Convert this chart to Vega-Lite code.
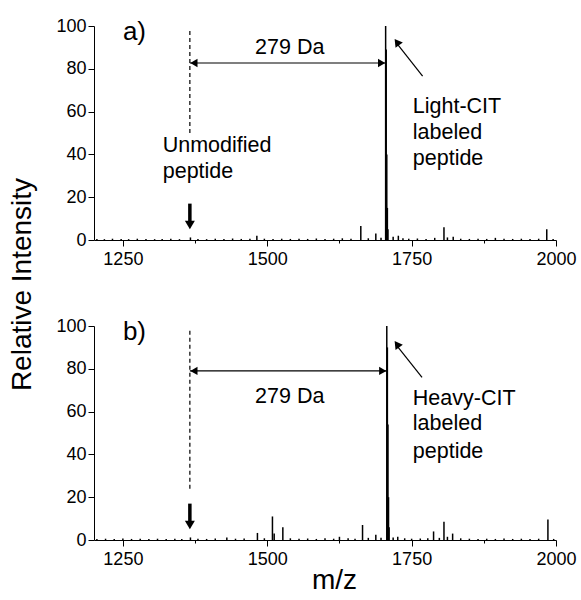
{
  "$schema": "https://vega.github.io/schema/vega-lite/v6.json",
  "background": "white",
  "padding": {"left": 8, "top": 17, "right": 5, "bottom": 5},
  "bounds": "flush",
  "spacing": 86,
  "config": {
    "font": "Liberation Sans",
    "view": {"stroke": null},
    "axis": {
      "domainColor": "black", "tickColor": "black", "labelColor": "black", "titleColor": "black",
      "labelFont": "Liberation Sans", "labelFontSize": 18, "grid": false, "labelFlush": false,
      "titleFont": "Liberation Sans", "titleFontWeight": "normal", "titleFontSize": 28
    }
  },
  "datasets": {
    "peaksA": [
      {"mz":1205,"i":0.5},{"mz":1218,"i":0.4},{"mz":1232,"i":0.6},{"mz":1247,"i":0.5},{"mz":1260,"i":0.4},{"mz":1275,"i":0.6},{"mz":1290,"i":0.5},{"mz":1305,"i":0.4},{"mz":1318,"i":0.5},{"mz":1333,"i":0.6},{"mz":1348,"i":0.4},{"mz":1367,"i":1.2},{"mz":1380,"i":0.5},{"mz":1395,"i":0.4},{"mz":1410,"i":0.6},{"mz":1425,"i":0.5},{"mz":1440,"i":0.7},{"mz":1455,"i":0.5},{"mz":1470,"i":0.6},{"mz":1482,"i":2.0},{"mz":1495,"i":0.6},{"mz":1510,"i":0.5},{"mz":1525,"i":0.6},{"mz":1540,"i":0.5},{"mz":1555,"i":0.6},{"mz":1570,"i":0.5},{"mz":1585,"i":0.7},{"mz":1600,"i":0.5},{"mz":1615,"i":0.6},{"mz":1630,"i":0.8},{"mz":1645,"i":0.6},{"mz":1662,"i":6.5},{"mz":1675,"i":0.8},{"mz":1688,"i":3.0},{"mz":1697,"i":1.0},{"mz":1705,"i":100},{"mz":1706,"i":89},{"mz":1707,"i":40},{"mz":1708,"i":15},{"mz":1709,"i":5},{"mz":1718,"i":1.5},{"mz":1727,"i":2.0},{"mz":1735,"i":0.8},{"mz":1745,"i":0.6},{"mz":1760,"i":0.7},{"mz":1775,"i":0.5},{"mz":1790,"i":1.0},{"mz":1806,"i":6.0},{"mz":1812,"i":1.2},{"mz":1822,"i":1.5},{"mz":1835,"i":0.6},{"mz":1850,"i":0.5},{"mz":1865,"i":0.6},{"mz":1880,"i":0.5},{"mz":1895,"i":1.0},{"mz":1910,"i":0.6},{"mz":1925,"i":0.5},{"mz":1940,"i":0.6},{"mz":1955,"i":0.5},{"mz":1970,"i":0.6},{"mz":1984,"i":5.0},{"mz":1995,"i":0.5}
    ],
    "peaksB": [
      {"mz":1205,"i":0.5},{"mz":1220,"i":0.6},{"mz":1235,"i":0.5},{"mz":1250,"i":0.7},{"mz":1265,"i":0.5},{"mz":1280,"i":0.6},{"mz":1295,"i":0.5},{"mz":1310,"i":0.6},{"mz":1325,"i":0.5},{"mz":1340,"i":0.6},{"mz":1352,"i":0.5},{"mz":1367,"i":1.2},{"mz":1380,"i":0.6},{"mz":1395,"i":0.5},{"mz":1410,"i":0.7},{"mz":1430,"i":1.2},{"mz":1445,"i":0.6},{"mz":1460,"i":0.7},{"mz":1483,"i":3.3},{"mz":1495,"i":0.8},{"mz":1509,"i":11},{"mz":1512,"i":3},{"mz":1527,"i":6},{"mz":1540,"i":0.8},{"mz":1555,"i":0.6},{"mz":1570,"i":0.7},{"mz":1585,"i":0.5},{"mz":1600,"i":0.8},{"mz":1615,"i":0.6},{"mz":1625,"i":1.5},{"mz":1640,"i":0.8},{"mz":1652,"i":0.6},{"mz":1665,"i":7},{"mz":1675,"i":1.0},{"mz":1688,"i":2.5},{"mz":1697,"i":1.0},{"mz":1707,"i":100},{"mz":1708,"i":90},{"mz":1709,"i":54},{"mz":1710,"i":20},{"mz":1711,"i":6},{"mz":1718,"i":1.2},{"mz":1726,"i":1.5},{"mz":1738,"i":0.8},{"mz":1750,"i":0.6},{"mz":1765,"i":0.7},{"mz":1778,"i":0.8},{"mz":1788,"i":4},{"mz":1798,"i":1.0},{"mz":1806,"i":8.5},{"mz":1812,"i":1.5},{"mz":1821,"i":3},{"mz":1835,"i":0.8},{"mz":1850,"i":0.6},{"mz":1865,"i":0.5},{"mz":1880,"i":0.6},{"mz":1895,"i":0.5},{"mz":1910,"i":0.7},{"mz":1925,"i":0.5},{"mz":1940,"i":0.6},{"mz":1955,"i":0.5},{"mz":1970,"i":0.6},{"mz":1986,"i":9.6},{"mz":1996,"i":0.5}
    ]
  },
  "vconcat": [
    {
      "width": 462, "height": 214,
      "layer": [
        {
          "data": {"name": "peaksA"},
          "mark": {"type": "rule", "color": "black", "strokeWidth": 1.5},
          "encoding": {
            "x": {"field": "mz", "type": "quantitative", "scale": {"domain": [1200, 2000], "nice": false},
              "axis": {"title": null, "values": [1250,1375,1500,1625,1750,1875,2000], "format": "d",
                "labelExpr": "datum.value % 250 === 0 ? datum.label : ''", "labelPadding": 4,
                "tickSize": {"condition": {"test": "datum.value % 250 === 0", "value": 6}, "value": 3}}},
            "y": {"field": "i", "type": "quantitative", "scale": {"domain": [0, 100], "nice": false},
              "axis": {"title": "Relative Intensity", "values": [0,10,20,30,40,50,60,70,80,90,100],
                "labelExpr": "datum.value % 20 === 0 ? datum.label : ''", "labelPadding": 2,
                "tickSize": {"condition": {"test": "datum.value % 20 === 0", "value": 6}, "value": 3},
                "titleX": -72, "titleY": 258, "titleAngle": -90, "titleAlign": "center", "titleBaseline": "middle"}},
            "y2": {"datum": 0}
          }
        },
        {
          "data": {"values": [{"mz": 1366, "lo": 50, "hi": 98.5}]},
          "mark": {"type": "rule", "color": "black", "strokeWidth": 1.2, "strokeDash": [4, 3]},
          "encoding": {"x": {"field": "mz", "type": "quantitative"}, "y": {"field": "lo", "type": "quantitative"}, "y2": {"field": "hi"}}
        },
        {
          "data": {"values": [{"x1": 1366, "x2": 1705, "y": 82.7}]},
          "mark": {"type": "rule", "color": "black", "strokeWidth": 1.2},
          "encoding": {"x": {"field": "x1", "type": "quantitative"}, "x2": {"field": "x2"}, "y": {"field": "y", "type": "quantitative"}}
        },
        {
          "data": {"values": [{"mz": 1373, "y": 82.7, "dir": "left"}, {"mz": 1698, "y": 82.7, "dir": "right"}]},
          "mark": {"type": "point", "filled": true, "color": "black", "size": 70, "opacity": 1},
          "encoding": {"x": {"field": "mz", "type": "quantitative"}, "y": {"field": "y", "type": "quantitative"},
            "shape": {"field": "dir", "type": "nominal", "scale": {"domain": ["left", "right"], "range": ["triangle-left", "triangle-right"]}, "legend": null}}
        },
        {
          "data": {"values": [{"mz": 1366, "top": 17, "bottom": 8}]},
          "mark": {"type": "rule", "color": "black", "strokeWidth": 3.5},
          "encoding": {"x": {"field": "mz", "type": "quantitative"}, "y": {"field": "top", "type": "quantitative"}, "y2": {"field": "bottom"}}
        },
        {
          "data": {"values": [{"mz": 1366, "y": 7}]},
          "mark": {"type": "point", "filled": true, "color": "black", "size": 100, "opacity": 1, "shape": "triangle-down"},
          "encoding": {"x": {"field": "mz", "type": "quantitative"}, "y": {"field": "y", "type": "quantitative"}}
        },
        {
          "data": {"values": [{"x1": 1769, "y1": 76.6, "x2": 1724, "y2": 92}]},
          "mark": {"type": "rule", "color": "black", "strokeWidth": 1.2},
          "encoding": {"x": {"field": "x1", "type": "quantitative"}, "y": {"field": "y1", "type": "quantitative"}, "x2": {"field": "x2"}, "y2": {"field": "y2"}}
        },
        {
          "data": {"values": [{"mz": 1724.5, "y": 92.5}]},
          "mark": {"type": "point", "filled": true, "color": "black", "size": 80, "opacity": 1, "shape": "triangle-up", "angle": 324},
          "encoding": {"x": {"field": "mz", "type": "quantitative"}, "y": {"field": "y", "type": "quantitative"}}
        },
        {
          "data": {"values": [{"mz": 1250, "y": 97, "label": "a)"}]},
          "mark": {"type": "text", "align": "left", "baseline": "middle", "fontSize": 26, "color": "black"},
          "encoding": {"x": {"field": "mz", "type": "quantitative"}, "y": {"field": "y", "type": "quantitative"}, "text": {"field": "label"}}
        },
        {
          "data": {"values": [
            {"mz": 1539, "y": 89.7, "label": "279 Da", "align": "c"},
            {"mz": 1319, "y": 44, "label": "Unmodified", "align": "l"},
            {"mz": 1319, "y": 32, "label": "peptide", "align": "l"},
            {"mz": 1752, "y": 62, "label": "Light-CIT", "align": "l"},
            {"mz": 1752, "y": 50, "label": "labeled", "align": "l"},
            {"mz": 1752, "y": 38, "label": "peptide", "align": "l"}
          ]},
          "mark": {"type": "text", "baseline": "middle", "fontSize": 21.5, "color": "black", "align": {"expr": "datum.align === 'c' ? 'center' : 'left'"}},
          "encoding": {"x": {"field": "mz", "type": "quantitative"}, "y": {"field": "y", "type": "quantitative"}, "text": {"field": "label"}}
        }
      ]
    },
    {
      "width": 462, "height": 214,
      "layer": [
        {
          "data": {"name": "peaksB"},
          "mark": {"type": "rule", "color": "black", "strokeWidth": 1.5},
          "encoding": {
            "x": {"field": "mz", "type": "quantitative", "scale": {"domain": [1200, 2000], "nice": false},
              "axis": {"title": "m/z", "values": [1250,1375,1500,1625,1750,1875,2000], "format": "d",
                "labelExpr": "datum.value % 250 === 0 ? datum.label : ''", "labelPadding": 4,
                "tickSize": {"condition": {"test": "datum.value % 250 === 0", "value": 6}, "value": 3},
                "titleX": 240, "titleY": 40, "titleBaseline": "middle"}},
            "y": {"field": "i", "type": "quantitative", "scale": {"domain": [0, 100], "nice": false},
              "axis": {"title": null, "values": [0,10,20,30,40,50,60,70,80,90,100],
                "labelExpr": "datum.value % 20 === 0 ? datum.label : ''", "labelPadding": 2,
                "tickSize": {"condition": {"test": "datum.value % 20 === 0", "value": 6}, "value": 3}}},
            "y2": {"datum": 0}
          }
        },
        {
          "data": {"values": [{"mz": 1366, "lo": 24, "hi": 98}]},
          "mark": {"type": "rule", "color": "black", "strokeWidth": 1.2, "strokeDash": [4, 3]},
          "encoding": {"x": {"field": "mz", "type": "quantitative"}, "y": {"field": "lo", "type": "quantitative"}, "y2": {"field": "hi"}}
        },
        {
          "data": {"values": [{"x1": 1366, "x2": 1707, "y": 79}]},
          "mark": {"type": "rule", "color": "black", "strokeWidth": 1.2},
          "encoding": {"x": {"field": "x1", "type": "quantitative"}, "x2": {"field": "x2"}, "y": {"field": "y", "type": "quantitative"}}
        },
        {
          "data": {"values": [{"mz": 1373, "y": 79, "dir": "left"}, {"mz": 1700, "y": 79, "dir": "right"}]},
          "mark": {"type": "point", "filled": true, "color": "black", "size": 70, "opacity": 1},
          "encoding": {"x": {"field": "mz", "type": "quantitative"}, "y": {"field": "y", "type": "quantitative"},
            "shape": {"field": "dir", "type": "nominal", "scale": {"domain": ["left", "right"], "range": ["triangle-left", "triangle-right"]}, "legend": null}}
        },
        {
          "data": {"values": [{"mz": 1366, "top": 17, "bottom": 8}]},
          "mark": {"type": "rule", "color": "black", "strokeWidth": 3.5},
          "encoding": {"x": {"field": "mz", "type": "quantitative"}, "y": {"field": "top", "type": "quantitative"}, "y2": {"field": "bottom"}}
        },
        {
          "data": {"values": [{"mz": 1366, "y": 7}]},
          "mark": {"type": "point", "filled": true, "color": "black", "size": 100, "opacity": 1, "shape": "triangle-down"},
          "encoding": {"x": {"field": "mz", "type": "quantitative"}, "y": {"field": "y", "type": "quantitative"}}
        },
        {
          "data": {"values": [{"x1": 1768, "y1": 76, "x2": 1724, "y2": 91}]},
          "mark": {"type": "rule", "color": "black", "strokeWidth": 1.2},
          "encoding": {"x": {"field": "x1", "type": "quantitative"}, "y": {"field": "y1", "type": "quantitative"}, "x2": {"field": "x2"}, "y2": {"field": "y2"}}
        },
        {
          "data": {"values": [{"mz": 1724.5, "y": 91.5}]},
          "mark": {"type": "point", "filled": true, "color": "black", "size": 80, "opacity": 1, "shape": "triangle-up", "angle": 324},
          "encoding": {"x": {"field": "mz", "type": "quantitative"}, "y": {"field": "y", "type": "quantitative"}}
        },
        {
          "data": {"values": [{"mz": 1250, "y": 97, "label": "b)"}]},
          "mark": {"type": "text", "align": "left", "baseline": "middle", "fontSize": 26, "color": "black"},
          "encoding": {"x": {"field": "mz", "type": "quantitative"}, "y": {"field": "y", "type": "quantitative"}, "text": {"field": "label"}}
        },
        {
          "data": {"values": [
            {"mz": 1539, "y": 67, "label": "279 Da", "align": "c"},
            {"mz": 1752, "y": 66, "label": "Heavy-CIT", "align": "l"},
            {"mz": 1752, "y": 54, "label": "labeled", "align": "l"},
            {"mz": 1752, "y": 41, "label": "peptide", "align": "l"}
          ]},
          "mark": {"type": "text", "baseline": "middle", "fontSize": 21.5, "color": "black", "align": {"expr": "datum.align === 'c' ? 'center' : 'left'"}},
          "encoding": {"x": {"field": "mz", "type": "quantitative"}, "y": {"field": "y", "type": "quantitative"}, "text": {"field": "label"}}
        }
      ]
    }
  ]
}
